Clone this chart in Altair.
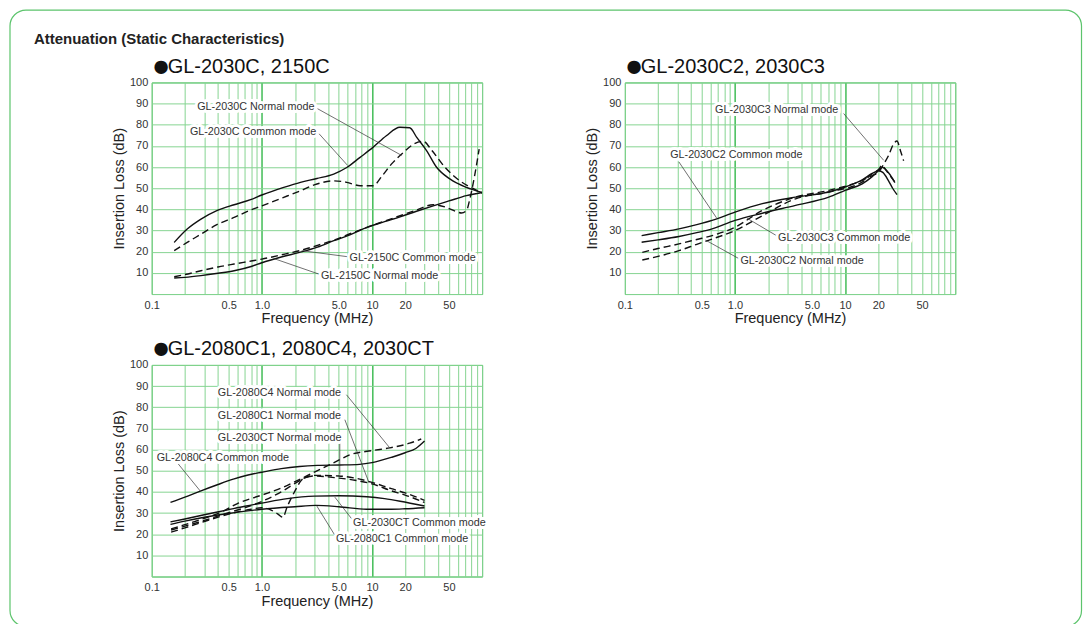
import altair as alt
import pandas as pd

FONT = "Liberation Sans"
GRID_LIGHT = "#86d492"
GRID_DARK = "#34b84a"
FRAME = "#5cc46c"

# ---------------- axes -----------------
x_grid_values = [0.1, 0.2, 0.3, 0.4, 0.5, 0.6, 0.7, 0.8, 0.9,
                 1, 2, 3, 4, 5, 6, 7, 8, 9,
                 10, 20, 30, 40, 50, 60, 70, 80, 90, 100]
x_label_values = [0.1, 0.5, 1, 5, 10, 20, 50]
x_label_text = ["0.1", "0.5", "1.0", "5.0", "10", "20", "50"]
x_decades = [1, 10]
y_grid_values = [0, 10, 20, 30, 40, 50, 60, 70, 80, 90, 100]

# ---------------- panel 1: GL-2030C, 2150C -----------------
p1_title = "GL-2030C, 2150C"
p1_2030c_cm_f = [0.16, 0.21, 0.28, 0.39, 0.56, 0.79, 1.0, 1.58, 2.24, 3.16, 4.49, 5.9, 7.8, 10.2, 13.5, 17.9, 22.0, 25.5, 31.3, 38.6, 50.9, 72, 100]
p1_2030c_cm_v = [24.4, 30.7, 35.4, 39.4, 42.2, 44.6, 46.8, 50.4, 52.8, 54.6, 56.7, 59.8, 64.6, 69.3, 74.8, 78.8, 78.6, 74.0, 67.8, 59.9, 54.4, 50.4, 48.0]
p1_2030c_nm_f = [0.16, 0.21, 0.28, 0.39, 0.56, 0.79, 1.0, 1.58, 2.24, 3.16, 4.49, 5.9, 7.8, 10.2, 12.4, 15.0, 19.3, 24.0, 29.2, 35.0, 46.0, 64.0, 85.0, 100]
p1_2030c_nm_v = [20.5, 24.4, 28.3, 32.8, 36.2, 39.7, 41.7, 45.7, 48.8, 52.0, 53.5, 52.8, 51.2, 51.2, 55.9, 61.4, 66.9, 70.9, 72.2, 67.8, 59.9, 53.2, 49.6, 47.7]
p1_2150c_cm_f = [0.16, 0.2, 0.28, 0.4, 0.56, 0.8, 1.0, 1.5, 2.2, 3.2, 4.5, 6.3, 9.0, 13, 18, 25, 36, 50, 72, 100]
p1_2150c_cm_v = [7.6, 7.9, 8.7, 9.8, 11.0, 13.0, 14.8, 17.5, 19.7, 22.2, 25.2, 28.0, 31.5, 34.2, 36.5, 39.0, 41.7, 44.0, 46.5, 48.0]
p1_2150c_nm_f = [0.16, 0.2, 0.28, 0.4, 0.56, 0.8, 1.0, 1.5, 2.2, 3.2, 4.5, 6.3, 9.0, 13, 18, 25, 36, 47, 58, 65, 72, 78, 86, 94]
p1_2150c_nm_v = [8.2, 9.2, 11.0, 12.8, 14.2, 15.6, 16.5, 18.5, 20.5, 23.0, 25.5, 28.5, 31.5, 34.5, 37.0, 39.6, 42.2, 41.0, 39.0, 38.3, 39.4, 45.7, 56.7, 68.5]
p1_labels = ["GL-2030C Normal mode", "GL-2030C Common mode", "GL-2150C Common mode", "GL-2150C Normal mode"]
p1_label_f = [0.259, 0.222, 6.25, 3.44]
p1_label_v = [88.2, 76.4, 17.0, 8.7]
p1_lead_f1 = [3.2, 3.3, 6.1, 3.35]
p1_lead_v1 = [87.6, 75.8, 17.6, 9.3]
p1_lead_f2 = [18.6, 6.0, 2.3, 1.28]
p1_lead_v2 = [65.5, 60.8, 20.5, 16.8]

# ---------------- panel 2: GL-2030C2, 2030C3 -----------------
p2_title = "GL-2030C2, 2030C3"
p2_c2_cm_f = [0.142, 0.2, 0.31, 0.45, 0.62, 1.0, 1.77, 3.55, 7.1, 10.0, 14.3, 17.6, 20.2, 22.0, 24.8, 27.0, 29.6]
p2_c2_cm_v = [27.6, 29.0, 30.8, 32.8, 34.8, 38.7, 42.7, 45.8, 48.2, 50.6, 54.0, 57.0, 58.3, 57.5, 53.5, 50.0, 47.0]
p2_c3_cm_f = [0.142, 0.2, 0.31, 0.45, 0.62, 1.0, 1.77, 3.55, 7.1, 10.0, 14.3, 17.6, 20.2, 21.6, 23.2, 25.5, 28.3]
p2_c3_cm_v = [24.5, 25.6, 27.2, 29.0, 30.8, 34.8, 38.2, 41.9, 45.8, 49.0, 52.1, 55.5, 58.5, 60.0, 59.0, 56.5, 52.7]
p2_c3_nm_f = [0.144, 0.2, 0.31, 0.45, 0.62, 1.0, 1.77, 3.55, 7.1, 14.3, 17.6, 20.2, 22.5, 24.8, 27.6, 29.6, 31.7, 34.0]
p2_c3_nm_v = [19.7, 21.5, 23.7, 25.8, 27.6, 31.6, 39.5, 45.8, 49.0, 53.7, 56.0, 57.7, 61.5, 65.5, 71.0, 72.3, 68.0, 63.0]
p2_c2_nm_f = [0.144, 0.2, 0.31, 0.45, 0.62, 1.0, 1.77, 3.55, 7.1, 14.3, 17.6, 20.2, 21.6, 23.2, 25.5, 28.3]
p2_c2_nm_v = [16.1, 17.8, 20.5, 23.5, 26.0, 30.0, 37.0, 45.0, 48.2, 52.9, 56.9, 59.0, 60.8, 59.0, 56.0, 53.0]
p2_labels = ["GL-2030C3 Normal mode", "GL-2030C2 Common mode", "GL-2030C3 Common mode", "GL-2030C2 Normal mode"]
p2_label_f = [0.659, 0.258, 2.46, 1.12]
p2_label_v = [86.9, 65.9, 26.5, 15.8]
p2_lead_f1 = [9.7, 0.31, 2.4, 1.08]
p2_lead_v1 = [85.3, 62.4, 27.5, 16.8]
p2_lead_f2 = [22.4, 0.68, 1.29, 0.54]
p2_lead_v2 = [63.2, 36.0, 35.8, 25.5]

# ---------------- panel 3: GL-2080C1, 2080C4, 2030CT -----------------
p3_title = "GL-2080C1, 2080C4, 2030CT"
p3_c4_cm_f = [0.148, 0.2, 0.28, 0.4, 0.55, 0.75, 1.0, 1.5, 2.2, 3.2, 5.1, 7.7, 10, 15.4, 20, 25, 30]
p3_c4_cm_v = [35.0, 37.5, 40.5, 43.5, 46.0, 48.0, 49.3, 51.0, 52.0, 52.5, 52.7, 53.0, 53.8, 56.5, 58.5, 60.5, 64.0]
p3_c4_nm_f = [0.15, 0.2, 0.3, 0.45, 0.6, 1.0, 1.5, 2.0, 3.1, 4.8, 6.3, 10, 14.5, 22, 28]
p3_c4_nm_v = [22.5, 24.5, 27.5, 31.0, 34.5, 38.5, 41.8, 44.8, 49.7, 54.5, 57.5, 59.5, 60.8, 63.0, 65.0]
p3_c1_nm_f = [0.15, 0.2, 0.3, 0.5, 0.8, 1.0, 1.5, 2.0, 2.5, 3.0, 5.0, 7.0, 10, 15, 20, 30]
p3_c1_nm_v = [22.0, 23.8, 26.5, 30.2, 33.5, 35.5, 40.0, 44.0, 46.8, 47.8, 47.5, 46.5, 44.5, 41.5, 39.5, 36.0]
p3_ct_nm_f = [0.15, 0.2, 0.3, 0.5, 0.8, 1.0, 1.2, 1.4, 1.55, 1.7, 2.0, 2.4, 3.0, 5.0, 7.0, 10, 15, 20, 30]
p3_ct_nm_v = [21.0, 23.0, 26.0, 29.5, 31.8, 32.5, 31.5, 29.5, 28.0, 33.0, 40.5, 46.5, 47.5, 46.5, 45.5, 43.8, 40.5, 38.5, 35.0]
p3_ct_cm_f = [0.148, 0.2, 0.3, 0.48, 0.7, 1.0, 1.7, 3.0, 5.0, 9.0, 13, 18, 30]
p3_ct_cm_v = [25.8, 27.2, 29.2, 31.4, 33.2, 34.7, 36.8, 38.0, 38.2, 37.7, 36.8, 35.6, 33.3]
p3_c1_cm_f = [0.148, 0.2, 0.3, 0.5, 1.0, 2.0, 3.1, 5.0, 8.9, 15, 20, 30]
p3_c1_cm_v = [24.6, 26.2, 28.0, 29.8, 31.8, 33.0, 33.6, 33.0, 31.8, 31.8, 32.0, 32.5]
p3_labels = ["GL-2080C4 Normal mode", "GL-2080C1 Normal mode", "GL-2030CT Normal mode",
             "GL-2080C4 Common mode", "GL-2030CT Common mode", "GL-2080C1 Common mode"]
p3_label_f = [0.398, 0.398, 0.398, 0.111, 6.73, 4.7]
p3_label_v = [86.7, 76.0, 65.5, 56.0, 25.4, 17.9]
p3_lead_f1 = [5.86, 5.67, 5.1, 0.171, 6.6, 4.6]
p3_lead_v1 = [85.9, 74.1, 63.9, 53.7, 27.0, 19.5]
p3_lead_f2 = [14.5, 9.4, 5.1, 0.277, 4.6, 3.14]
p3_lead_v2 = [60.8, 44.3, 48.2, 40.3, 37.5, 33.5]

main_title = "Attenuation (Static Characteristics)"
bullet = "●"
x_title = "Frequency (MHz)"
y_title = "Insertion Loss (dB)"


def build_label_expr(vals, texts):
    expr = "''"
    for v, t in reversed(list(zip(vals, texts))):
        expr = f"datum.value == {v} ? '{t}' : ({expr})"
    return expr


decade_test = " || ".join(f"datum.value == {d}" for d in x_decades)

x_axis = alt.Axis(
    values=x_grid_values, labelExpr=build_label_expr(x_label_values, x_label_text),
    title=x_title, grid=True,
    gridColor={"condition": {"test": decade_test, "value": GRID_DARK}, "value": GRID_LIGHT},
    gridWidth={"condition": {"test": decade_test, "value": 1.4}, "value": 1},
    ticks=False, domain=False, labelFont=FONT, labelFontSize=11, labelColor="#333",
    labelPadding=5, labelFlush=False, labelOverlap=False,
    titleFont=FONT, titleFontSize=14.5, titleFontWeight="normal", titleColor="#222",
    titlePadding=2,
)
y_axis = alt.Axis(
    values=y_grid_values, labelExpr="datum.value == 0 ? '' : datum.label",
    title=y_title, grid=True, gridColor=GRID_LIGHT, gridWidth=1,
    ticks=False, domain=False, labelFont=FONT, labelFontSize=11, labelColor="#333",
    labelPadding=4, labelOverlap=False,
    titleFont=FONT, titleFontSize=14.5, titleFontWeight="normal", titleColor="#222",
    titlePadding=3,
)
x_scale = alt.Scale(type="log", domain=[0.1, 100], nice=False)
y_scale = alt.Scale(domain=[0, 100], nice=False)

W, H = 331, 212
one = pd.DataFrame({"k": [0]})


def series_frame(items):
    rows = []
    for name, fs, vs in items:
        for i, (f, v) in enumerate(zip(fs, vs)):
            rows.append({"series": name, "i": i, "f": f, "v": v})
    return pd.DataFrame(rows)


def make_panel(title, solid, dashed, labels, lf, lv, f1, v1, f2, v2, extra=None):
    X = lambda field: alt.X(field, type="quantitative", scale=x_scale, axis=x_axis)
    Y = lambda field: alt.Y(field, type="quantitative", scale=y_scale, axis=y_axis)
    solid_df = series_frame(solid)
    dashed_df = series_frame(dashed)
    ann = pd.DataFrame({"text": labels, "lf": lf, "lv": lv, "f1": f1, "v1": v1, "f2": f2, "v2": v2})

    solid_layer = alt.Chart(solid_df).mark_line(
        interpolate="monotone", color="#111", strokeWidth=1.4, clip=True
    ).encode(x=X("f"), y=Y("v"), detail="series:N", order="i:Q")
    dashed_layer = alt.Chart(dashed_df).mark_line(
        interpolate="monotone", color="#111", strokeWidth=1.4, strokeDash=[7, 4], clip=True
    ).encode(x=X("f"), y=Y("v"), detail="series:N", order="i:Q")
    leaders = alt.Chart(ann).mark_rule(color="#333", strokeWidth=0.7).encode(
        x=X("f1"), y=Y("v1"), x2="f2:Q", y2="v2:Q")
    halo = alt.Chart(ann).mark_text(
        align="left", baseline="middle", font=FONT, fontSize=10.8,
        color="white", stroke="white", strokeWidth=6, strokeJoin="round"
    ).encode(x=X("lf"), y=Y("lv"), text="text:N")
    text = alt.Chart(ann).mark_text(
        align="left", baseline="middle", font=FONT, fontSize=10.8, color="#333"
    ).encode(x=X("lf"), y=Y("lv"), text="text:N")
    pbullet = alt.Chart(one).mark_text(
        text=bullet, align="left", baseline="alphabetic", font=FONT, fontSize=31, color="#111"
    ).encode(x=alt.value(0), y=alt.value(-6.5))
    ptitle = alt.Chart(one).mark_text(
        text=title, align="left", baseline="alphabetic", font=FONT, fontSize=20, color="#111"
    ).encode(x=alt.value(16), y=alt.value(-9.5))
    layers = []
    if extra:
        layers.extend(extra)
    layers += [solid_layer, dashed_layer, leaders, halo, text, pbullet, ptitle]
    return alt.layer(*layers).properties(width=W, height=H)


frame = alt.Chart(one).mark_rect(
    filled=False, stroke=FRAME, strokeWidth=1.2, cornerRadius=16
).encode(x=alt.value(-142), x2=alt.value(931.5), y=alt.value(-72.5), y2=alt.value(545))
head = alt.Chart(one).mark_text(
    text=main_title, align="left", baseline="alphabetic", font=FONT, fontSize=15,
    fontWeight="bold", color="#222"
).encode(x=alt.value(-118), y=alt.value(-39))

p1 = make_panel(
    p1_title,
    [("2030C common", p1_2030c_cm_f, p1_2030c_cm_v), ("2150C common", p1_2150c_cm_f, p1_2150c_cm_v)],
    [("2030C normal", p1_2030c_nm_f, p1_2030c_nm_v), ("2150C normal", p1_2150c_nm_f, p1_2150c_nm_v)],
    p1_labels, p1_label_f, p1_label_v, p1_lead_f1, p1_lead_v1, p1_lead_f2, p1_lead_v2,
    extra=[frame, head],
)
p2 = make_panel(
    p2_title,
    [("C2 common", p2_c2_cm_f, p2_c2_cm_v), ("C3 common", p2_c3_cm_f, p2_c3_cm_v)],
    [("C3 normal", p2_c3_nm_f, p2_c3_nm_v), ("C2 normal", p2_c2_nm_f, p2_c2_nm_v)],
    p2_labels, p2_label_f, p2_label_v, p2_lead_f1, p2_lead_v1, p2_lead_f2, p2_lead_v2,
)
p3 = make_panel(
    p3_title,
    [("C4 common", p3_c4_cm_f, p3_c4_cm_v), ("CT common", p3_ct_cm_f, p3_ct_cm_v),
     ("C1 common", p3_c1_cm_f, p3_c1_cm_v)],
    [("C4 normal", p3_c4_nm_f, p3_c4_nm_v), ("C1 normal", p3_c1_nm_f, p3_c1_nm_v),
     ("CT normal", p3_ct_nm_f, p3_ct_nm_v)],
    p3_labels, p3_label_f, p3_label_v, p3_lead_f1, p3_lead_v1, p3_lead_f2, p3_lead_v2,
)

chart = alt.concat(
    p1, p2, p3, columns=2, spacing={"row": 71, "column": 143}, bounds="flush"
).properties(
    padding={"left": 0, "top": 0, "right": 0, "bottom": 0}
).configure_view(stroke=GRID_DARK, strokeWidth=1)

chart.save("out.html", embed_options={"renderer": "svg", "actions": False})
